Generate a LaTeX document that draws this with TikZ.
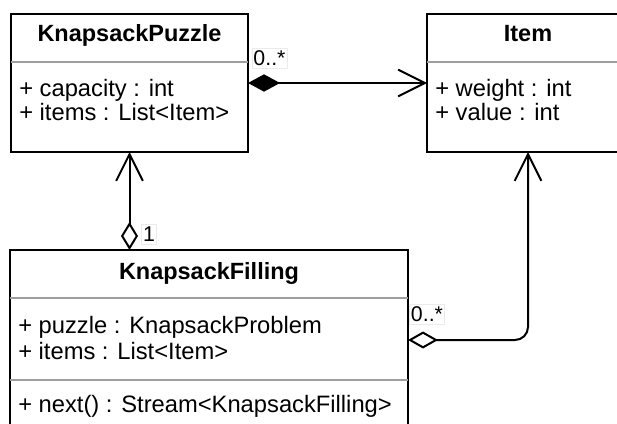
\documentclass[tikz,border=0pt]{standalone}
\usepackage{fontspec}
\setmainfont{Liberation Sans}
\usetikzlibrary{arrows.meta}
\begin{document}
\begin{tikzpicture}[x=0.75pt,y=-0.75pt,
  umlbox/.style={draw, line width=1.5pt, inner sep=0, outer sep=0},
  sepline/.style={draw=black!38, line width=1.1pt},
  ttl/.style={anchor=base, inner sep=0, font=\bfseries\fontsize{17.6}{20}\selectfont},
  attr/.style={anchor=base west, inner sep=0, font=\fontsize{17.8}{20}\selectfont},
  lbl/.style={fill=white, draw=black!8, line width=0.4pt, inner xsep=1pt, inner ysep=2pt, font=\fontsize{16}{18}\selectfont},
  conn/.style={line width=1.5pt}
]
\useasboundingbox (0,0) rectangle (617,424);
\fill[white] (0,0) rectangle (617,424);
\clip (0,0) rectangle (617,424);

% boxes
\node[umlbox, minimum width=177.75pt, minimum height=103.5pt] (kp) at (129.5,83) {};
\node[umlbox, minimum width=151.5pt, minimum height=103.5pt] (item) at (528,83) {};
\node[umlbox, minimum width=298.5pt, minimum height=142.5pt] (kf) at (209,345) {};

% separators
\draw[sepline] (kp.west |- 0,62) -- (kp.east |- 0,62);
\draw[sepline] (item.west |- 0,62) -- (item.east |- 0,62);
\draw[sepline] (kf.west |- 0,298) -- (kf.east |- 0,298);
\draw[sepline] (kf.west |- 0,380) -- (kf.east |- 0,380);

% texts
\node[ttl] (kpt) at (129.5,42) {KnapsackPuzzle};
\node[attr] (kpa1) at (19,97) {+ capacity : int};
\node[attr] (kpa2) at (19,121) {+ items : List<Item>};

\node[ttl] (itt) at (528,42) {Item};
\node[attr] (ita1) at (435,97) {+ weight : int};
\node[attr] (ita2) at (435,121) {+ value : int};

\node[ttl] (kft) at (209,279) {KnapsackFilling};
\node[attr] (kfa1) at (18,333) {+ puzzle : KnapsackProblem};
\node[attr] (kfa2) at (18,359) {+ items : List<Item>};
\node[attr] (kfm1) at (18,412) {+ next() : Stream<KnapsackFilling>};

% connectors
\draw[conn, {Diamond[length=24pt, width=13pt]}-{Straight Barb[length=20pt, width=20pt]}] (kp.east) -- (item.west);
\draw[conn, {Diamond[open, length=21pt, width=12.75pt]}-{Straight Barb[length=20pt, width=20pt]}] (kf.north -| kp.south) -- (kp.south);
\draw[conn, rounded corners=9.75pt, {Diamond[open, length=22.5pt, width=12.75pt]}-{Straight Barb[length=20pt, width=20pt]}] ([yshift=3.75pt]kf.east) -| (item.south);

% multiplicities
\node[lbl] (m1) at (269.5,58) {0..*};
\node[lbl] (m2) at (149,234) {1};
\node[lbl] (m3) at (427,314.5) {0..*};
\end{tikzpicture}
\end{document}
